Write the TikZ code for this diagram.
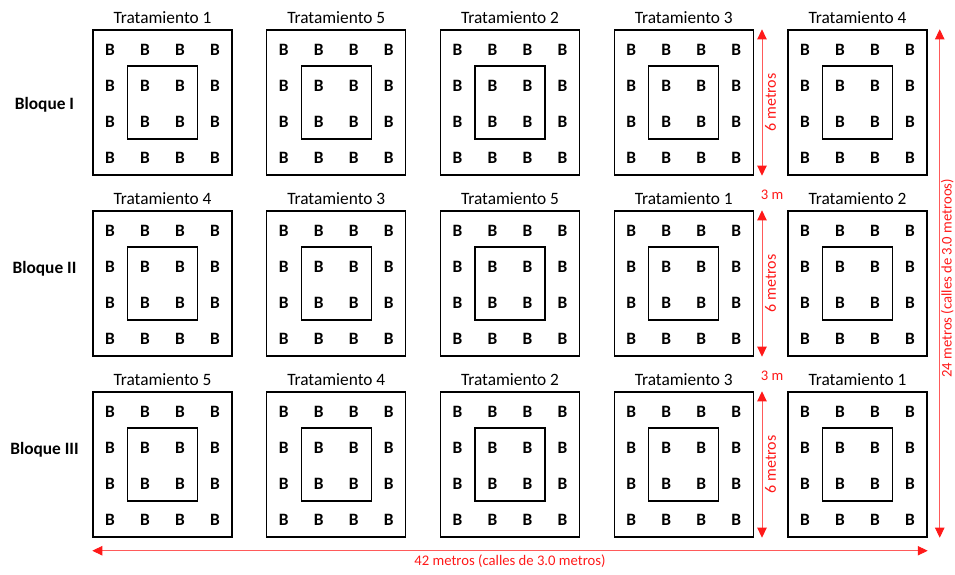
\documentclass[tikz,border=0pt]{standalone}
\usepackage{fontspec}
\setmainfont{Carlito}
\usetikzlibrary{arrows.meta,positioning}
\definecolor{dimred}{RGB}{255,25,25}
\definecolor{dimline}{RGB}{255,90,90}

\begin{document}
\begin{tikzpicture}[
  x=0.75pt, y=-0.75pt,
  plot/.style={draw, line width=1.1pt, minimum width=104.25pt, minimum height=108.75pt, inner sep=0pt},
  core/.style={draw, line width=1.1pt, minimum width=52.5pt, minimum height=54.75pt, inner sep=0pt},
  bee/.style={font=\bfseries\fontsize{13}{15}\selectfont, inner sep=0pt},
  title/.style={font=\fontsize{13}{15}\selectfont, inner sep=0pt, anchor=base},
  block/.style={font=\bfseries\fontsize{13}{15}\selectfont, inner sep=0pt, anchor=base},
  dim/.style={draw=dimline, line width=0.7pt,
    {Triangle[length=7.5pt, width=7pt, color=dimred]}-{Triangle[length=7.5pt, width=7pt, color=dimred]}},
  dimlabel/.style={text=dimred, font=\fontsize{11}{13}\selectfont, inner sep=2pt}
]
\useasboundingbox (0,0) rectangle (955,574);

% parcelas por bloque
\foreach \trts [count=\r] in {{1,5,2,3,4},{4,3,5,1,2},{5,4,2,3,1}} {
  \foreach \t [count=\c] in \trts {
    \node[plot] (p-\r-\c) at ({162.5+173.75*(\c-1)}, {102.5+181*(\r-1)}) {};
    \node[core] (k-\r-\c) at (p-\r-\c) {};
    \node[title] (t-\r-\c) at ([yshift=4.5pt]p-\r-\c.north) {Tratamiento \t};
    \foreach \bx in {-52.5,-17.5,17.5,52.5}
      \foreach \by in {-52.5,-16.5,19.5,55.5}
        \node[bee] at ([shift={(\bx,\by)}]p-\r-\c.center) {B};
  }
}

% bloques
\node[block] (b-1) at (44.5,110) {Bloque I};
\node[block] (b-2) at (44.5,273.5) {Bloque II};
\node[block] (b-3) at (44.5,454.5) {Bloque III};

% medidas
\foreach \r in {1,2,3}
  \draw[dim] ([xshift=6pt]p-\r-4.north east) -- ([xshift=6pt]p-\r-4.south east)
    node[dimlabel, midway, rotate=90, anchor=north, font=\fontsize{12}{14}\selectfont] {6 metros};
\foreach \r in {2,3}
  \node[dimlabel] (gap-\r) at ([xshift=13.5pt, yshift=11.6pt]p-\r-4.north east) {3 m};

\draw[dim] ([xshift=9pt]p-1-5.north east) -- ([xshift=9pt]p-3-5.south east)
  node[dimlabel, pos=0.49, rotate=90, anchor=north, inner sep=0.5pt] {24 metros (calles de 3.0 metroos)};
\draw[dim] ([yshift=-9.75pt]p-3-1.south west) -- ([yshift=-9.75pt]p-3-5.south east)
  node[dimlabel, midway, anchor=north, inner sep=3pt] {42 metros (calles de 3.0 metros)};
\end{tikzpicture}
\end{document}
